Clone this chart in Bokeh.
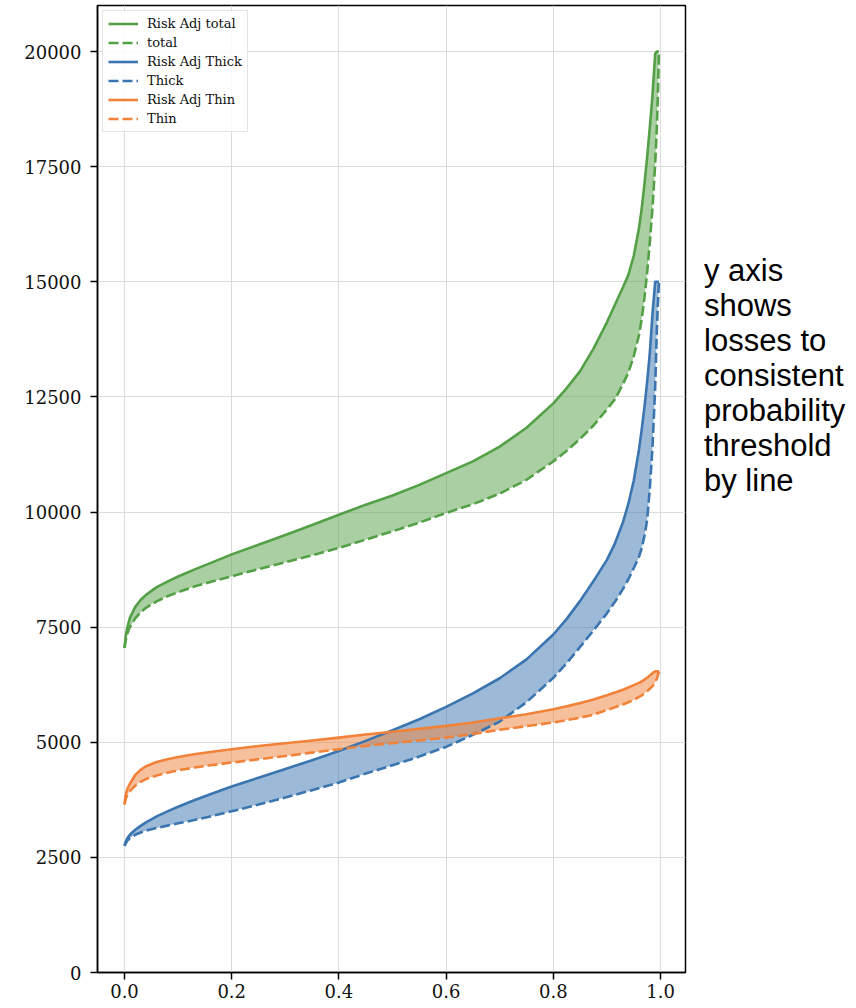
from bokeh.plotting import figure
from bokeh.models import Range1d, Legend, LegendItem, Div
from bokeh.layouts import row
from bokeh.embed import file_html
from bokeh.resources import INLINE

# ---- data ----
prob = [0.0, 0.002, 0.005, 0.01, 0.02, 0.03, 0.04, 0.06, 0.08, 0.1,
        0.13, 0.16, 0.2, 0.25, 0.3, 0.35, 0.4, 0.45, 0.5, 0.55,
        0.6, 0.65, 0.7, 0.75, 0.8, 0.825, 0.85, 0.875, 0.9, 0.915,
        0.93, 0.94, 0.95, 0.96, 0.965, 0.97, 0.975, 0.98, 0.985, 0.99,
        0.993, 0.995, 0.997]

total_ra = [7050, 7280, 7480, 7700, 7940, 8090, 8200, 8370, 8490, 8600,
            8750, 8890, 9080, 9290, 9500, 9720, 9940, 10160, 10360, 10590,
            10845, 11100, 11420, 11830, 12360, 12690, 13060, 13550, 14120, 14500,
            14880, 15150, 15560, 16180, 16600, 17120, 17700, 18350, 19050, 19950,
            20000, 20000, 20000]
total = [7050, 7200, 7350, 7500, 7690, 7820, 7920, 8060, 8170, 8260,
         8380, 8480, 8605, 8760, 8910, 9060, 9220, 9400, 9580, 9770,
         9980, 10170, 10400, 10700, 11100, 11330, 11590, 11880, 12230, 12450,
         12780, 13030, 13380, 13850, 14200, 14650, 15200, 15850, 16600, 17550,
         18300, 19000, 20000]

thick_ra = [2750, 2830, 2910, 2990, 3100, 3185, 3260, 3390, 3500, 3600,
            3740, 3870, 4040, 4230, 4420, 4610, 4810, 5030, 5260, 5500,
            5770, 6060, 6390, 6800, 7340, 7680, 8070, 8500, 8960, 9320,
            9780, 10180, 10680, 11370, 11800, 12280, 12820, 13450, 14300, 15000,
            15000, 15000, 15000]
thick = [2750, 2800, 2860, 2920, 2990, 3040, 3080, 3140, 3190, 3240,
         3310, 3390, 3500, 3650, 3800, 3960, 4125, 4320, 4500, 4690,
         4900, 5160, 5450, 5870, 6400, 6720, 7070, 7430, 7800, 8050,
         8330, 8540, 8780, 9030, 9220, 9480, 9820, 10500, 11400, 12700,
         13900, 14500, 15000]

thin_ra = [3650, 3850, 3980, 4100, 4290, 4400, 4480, 4570, 4630, 4680,
           4740, 4790, 4850, 4920, 4980, 5040, 5100, 5170, 5230, 5290,
           5355, 5430, 5520, 5610, 5715, 5780, 5850, 5930, 6020, 6080,
           6140, 6190, 6240, 6290, 6320, 6360, 6400, 6450, 6500, 6540,
           6540, 6540, 6540]
thin = [3650, 3760, 3850, 3940, 4060, 4140, 4200, 4280, 4340, 4390,
        4450, 4500, 4560, 4630, 4700, 4775, 4850, 4920, 4980, 5040,
        5100, 5180, 5270, 5350, 5430, 5480, 5535, 5600, 5700, 5760,
        5820, 5870, 5920, 5985, 6020, 6060, 6110, 6160, 6220, 6300,
        6380, 6450, 6540]

x_ticks = [0.0, 0.2, 0.4, 0.6, 0.8, 1.0]
x_tick_labels = ["0.0", "0.2", "0.4", "0.6", "0.8", "1.0"]
y_ticks = [0, 2500, 5000, 7500, 10000, 12500, 15000, 17500, 20000]
y_tick_labels = ["0", "2500", "5000", "7500", "10000", "12500", "15000", "17500", "20000"]

series = [
    ("Risk Adj total", "total", total_ra, total, "#54a046"),
    ("Risk Adj Thick", "Thick", thick_ra, thick, "#3a75b0"),
    ("Risk Adj Thin", "Thin", thin_ra, thin, "#f0823a"),
]

note = "y axis<br>shows<br>losses to<br>consistent<br>probability<br>threshold<br>by line"

# ---- figure ----
p = figure(width=687, height=1000, output_backend="svg", toolbar_location=None,
           x_range=Range1d(-0.0504, 1.0466), y_range=Range1d(0, 21000),
           min_border_left=97, min_border_right=2, min_border_top=5, min_border_bottom=28)

p.outline_line_color = "black"
p.outline_line_width = 1.5
p.background_fill_color = "white"
p.border_fill_color = "white"

p.xaxis.ticker = x_ticks
p.yaxis.ticker = y_ticks
p.xaxis.major_label_overrides = {t: l for t, l in zip(x_ticks, x_tick_labels)}
p.yaxis.major_label_overrides = {t: l for t, l in zip(y_ticks, y_tick_labels)}

p.grid.grid_line_color = "#dcdcdc"
p.grid.grid_line_width = 1
p.axis.minor_tick_line_color = None
p.axis.major_tick_in = 0
p.axis.major_tick_out = 7
p.axis.major_tick_line_width = 1.5
p.axis.major_tick_line_color = "black"
p.axis.axis_line_color = "black"
p.axis.axis_line_width = 1.5
p.axis.major_label_text_font = "DejaVu Serif"
p.axis.major_label_text_font_size = "18px"
p.axis.major_label_text_color = "#111111"
p.xaxis.major_label_standoff = 4
p.yaxis.major_label_standoff = 9

items = []
for ra_name, name, ra_vals, vals, col in series:
    p.varea(x=prob, y1=vals, y2=ra_vals, fill_color=col, fill_alpha=0.5)
for ra_name, name, ra_vals, vals, col in series:
    r1 = p.line(prob, ra_vals, line_color=col, line_width=2.6, line_join="round")
    r2 = p.line(prob, vals, line_color=col, line_width=2.6, line_dash="10 4",
                line_join="round")
    items.append(LegendItem(label=ra_name, renderers=[r1]))
    items.append(LegendItem(label=name, renderers=[r2]))

legend = Legend(items=items, location="top_left")
legend.label_text_font = "DejaVu Serif"
legend.label_text_font_size = "13px"
legend.label_text_color = "#111111"
legend.glyph_width = 30
legend.glyph_height = 15
legend.label_height = 15
legend.spacing = 4
legend.padding = 5
legend.margin = 5
legend.label_standoff = 9
legend.border_line_color = "#cccccc"
legend.border_line_width = 1
legend.background_fill_alpha = 0.85
p.add_layout(legend)

div = Div(text=('<div style="padding-top:248px; padding-left:12px; '
                'font-family:\'Liberation Sans\', Arial, sans-serif; font-size:31px; '
                'line-height:35px; color:#000;">' + note + '</div>'),
          width=163, height=1000)

layout = row(p, div)
open("out.html", "w").write(file_html(layout, INLINE))
